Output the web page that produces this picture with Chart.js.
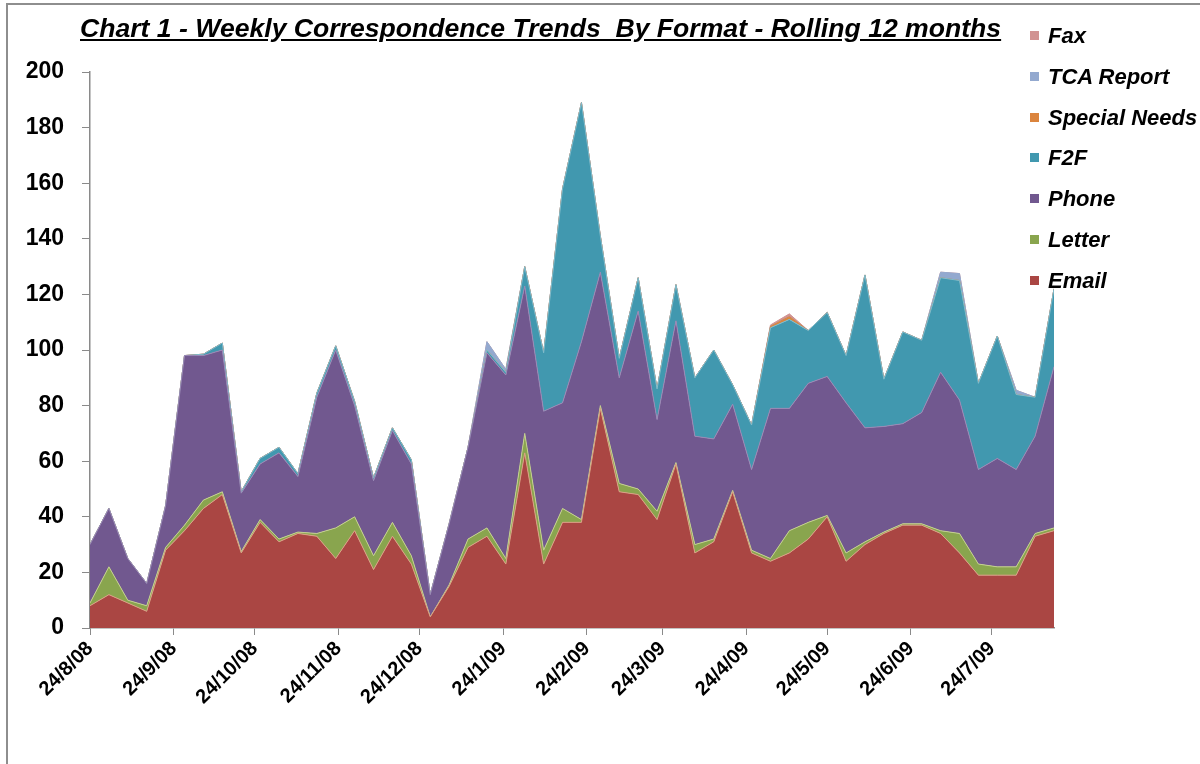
<!DOCTYPE html>
<html>
<head>
<meta charset="utf-8">
<script src="https://cdn.jsdelivr.net/npm/chart.js@4.4.1/dist/chart.umd.min.js"></script>
<style>
  html, body { margin: 0; padding: 0; background: #fff; overflow: hidden; }
  #wrap { position: relative; width: 1200px; height: 764px; }
  #frame { position: absolute; left: 6px; top: 3px; width: 1220px; height: 790px; border: 2px solid #8e8e8e; box-sizing: border-box; }
  #chart { position: absolute; left: 0; top: 0; }
  #title { position: absolute; left: 80px; top: 13px; font: italic bold 26.6px "Liberation Sans", Arial, sans-serif; text-decoration: underline; white-space: pre; color: #000; }
  #legend { position: absolute; left: 1030px; top: 23px; margin: 0; padding: 0; list-style: none; font: italic bold 22px "Liberation Sans", Arial, sans-serif; color: #000; }
  #legend li { height: 40.8px; white-space: nowrap; }
  #legend span { display: inline-block; width: 9px; height: 9px; margin-right: 9px; vertical-align: 3px; }
</style>
</head>
<body>
<div id="wrap">
  <div id="frame"></div>
  <canvas id="chart" width="1200" height="764"></canvas>
  <div id="title">Chart 1 - Weekly Correspondence Trends  By Format - Rolling 12 months</div>
  <ul id="legend"></ul>
</div>
<script>
// weekly data, first week 24/8/08
const startDate = new Date(2008, 7, 24);
const weekCount = 52;

const tickLabels = ['24/8/08', '24/9/08', '24/10/08', '24/11/08', '24/12/08', '24/1/09',
  '24/2/09', '24/3/09', '24/4/09', '24/5/09', '24/6/09', '24/7/09'];

const email = [8, 12, 9, 6, 28, 35, 43, 48, 27, 38, 31, 34, 33, 25, 35, 21, 33, 23, 4, 15,
  29, 33, 23, 63, 23, 38, 38, 79, 49, 48, 39, 59, 27, 31, 49, 27, 24, 27, 32, 40,
  24, 30, 34, 37, 37, 34, 27, 19, 19, 19, 33, 35];
const letter = [1, 10, 1, 2, 1, 2, 3, 1, 0.5, 1, 1, 0.5, 1, 11, 5, 5, 5, 3, 0, 0.5,
  3, 3, 2, 7, 5, 5, 1, 1, 3, 2, 3, 0.5, 3, 1, 0.5, 1, 1, 8, 6, 0.5,
  3, 1, 0.5, 0.5, 0.5, 1, 7, 4, 3, 3, 1, 1];
const phone = [21, 21, 15, 8, 15, 61, 52, 51, 21, 20, 31, 20, 49, 64, 40, 27, 33, 33, 8, 22,
  33, 63, 66, 53, 50, 38, 64, 48, 38, 64, 33, 51, 39, 36, 31, 29, 54, 44, 50, 50,
  54, 41, 38, 36, 40, 57, 48, 34, 39, 35, 35, 58];
const f2f = [0, 0, 0, 0, 0, 0, 0.5, 2.5, 0.5, 2, 2, 1, 1.5, 1.5, 1.5, 1, 1, 1.5, 0, 0,
  0, 1, 1, 7, 21, 77, 86, 13, 7, 12, 11, 13, 21, 32, 7, 16, 29, 32, 19, 23,
  17, 55, 17, 33, 26, 34, 43, 31, 44, 27, 14, 28];
const specialNeeds = [0, 0, 0, 0, 0, 0, 0, 0, 0, 0, 0, 0, 0, 0, 0, 0, 0, 0, 0, 0,
  0, 0, 0, 0, 0, 0, 0, 0, 0, 0, 0, 0, 0, 0, 0, 0, 0.5, 1, 0, 0,
  0, 0, 0, 0, 0, 0, 0, 0, 0, 0, 0, 0];
const tcaReport = [0, 0, 0, 0, 0, 0, 0, 0, 0, 0, 0, 0, 0, 0, 0, 0, 0, 0, 0, 0,
  0, 3, 1, 0, 0, 0, 0, 0, 0, 0, 0, 0, 0, 0, 0, 0, 0, 0, 0, 0,
  0, 0, 0, 0, 0, 2, 2.5, 0, 0, 1.5, 0, 0];
const fax = [0, 0, 0, 0, 0, 0, 0, 0, 0, 0, 0, 0, 0, 0, 0, 0, 0, 0, 0, 0,
  0, 0, 0, 0, 0, 0, 0, 0, 0, 0, 0, 0, 0, 0, 0, 0, 0.5, 1, 0, 0,
  0, 0, 0, 0, 0, 0, 0, 0, 0, 0, 0, 0];

const series = [
  { label: 'Email', data: email, color: '#AA4643', edge: '#D9A184' },
  { label: 'Letter', data: letter, color: '#89A54E', edge: '#C3CF8E' },
  { label: 'Phone', data: phone, color: '#71588F', edge: '#9A89B5' },
  { label: 'F2F', data: f2f, color: '#4198AF', edge: '#7FBCCD' },
  { label: 'Special Needs', data: specialNeeds, color: '#DB843D', edge: '#DB843D' },
  { label: 'TCA Report', data: tcaReport, color: '#93A9CF', edge: '#93A9CF' },
  { label: 'Fax', data: fax, color: '#D19392', edge: '#D19392' }
];

const DAY = 86400000;
const dayOffset = (d) => Math.round((d - startDate) / DAY);
const tickDays = tickLabels.map(l => {
  const [d, m, y] = l.split('/').map(Number);
  return dayOffset(new Date(2000 + y, m - 1, d));
});
const labelFor = {};
tickDays.forEach((v, i) => { labelFor[v] = tickLabels[i]; });
const weekDays = Array.from({ length: weekCount }, (_, i) => i * 7);

const legend = document.getElementById('legend');
[...series].reverse().forEach(s => {
  const li = document.createElement('li');
  li.innerHTML = `<span style="background:${s.color}"></span>${s.label}`;
  legend.appendChild(li);
});

const axisColor = '#8a8a8a';
const tickFont = { family: '"Liberation Sans", Arial, sans-serif', weight: 'bold' };

new Chart(document.getElementById('chart'), {
  type: 'line',
  data: {
    datasets: series.map((s, i) => ({
      label: s.label,
      data: s.data.map((v, k) => ({ x: weekDays[k], y: v })),
      backgroundColor: s.color,
      borderColor: s.edge,
      borderWidth: 1,
      pointRadius: 0,
      tension: 0,
      fill: i === 0 ? 'origin' : '-1'
    }))
  },
  options: {
    responsive: false,
    animation: false,
    layout: { padding: { left: 0, right: 146, top: 72, bottom: 0 } },
    plugins: { legend: { display: false }, title: { display: false }, tooltip: { enabled: false } },
    scales: {
      x: {
        type: 'linear',
        min: 0,
        max: weekDays[weekDays.length - 1],
        afterBuildTicks: (s) => { s.ticks = tickDays.map(v => ({ value: v })); },
        afterFit: (s) => { s.height = 136; },
        ticks: {
          autoSkip: false,
          minRotation: 45,
          maxRotation: 45,
          padding: 2,
          color: '#000',
          font: { ...tickFont, size: 20 },
          callback: (v) => labelFor[v] ?? ''
        },
        grid: { drawOnChartArea: false, tickLength: 7, color: axisColor },
        border: { color: axisColor, width: 1.5 }
      },
      y: {
        stacked: true,
        min: 0,
        max: 200,
        afterFit: (s) => { s.width = 90; },
        ticks: {
          stepSize: 20,
          padding: 18,
          color: '#000',
          font: { ...tickFont, size: 23 }
        },
        grid: { drawOnChartArea: false, tickLength: 8, color: axisColor },
        border: { color: axisColor, width: 1.5 }
      }
    }
  }
});
</script>
</body>
</html>
